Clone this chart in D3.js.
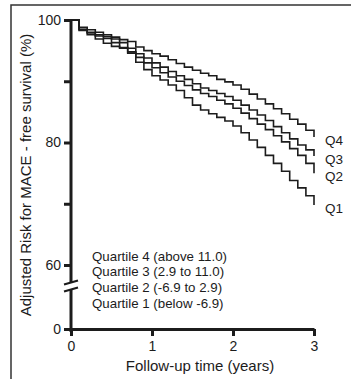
<!DOCTYPE html>
<html>
<head>
<meta charset="utf-8">
<script src="https://cdn.jsdelivr.net/npm/d3@7"></script>
<style>
  body { margin: 0; background: #fff; }
  svg { display: block; font-family: Arial, "Liberation Sans", sans-serif; }
</style>
</head>
<body>
<div id="chart"></div>
<script>
"use strict"

// follow-up time (years)
const years = [0, 0.1, 0.2, 0.3, 0.4, 0.5, 0.6, 0.7, 0.8, 0.9,
               1.0, 1.1, 1.2, 1.3, 1.4, 1.5, 1.6, 1.7, 1.8, 1.9,
               2.0, 2.1, 2.2, 2.3, 2.4, 2.5, 2.6, 2.7, 2.8, 2.9, 3.0];

// adjusted MACE-free survival (%)
const q4 = [100, 98.8, 98.4, 98.0, 97.6, 97.2, 96.8, 96.5, 95.6, 95.0,
            94.5, 94.1, 93.5, 92.9, 92.3, 91.8, 91.3, 90.9, 90.3, 89.9,
            89.4, 88.7, 87.9, 87.1, 86.3, 85.5, 84.7, 83.8, 83.0, 82.0, 80.9];
const q3 = [100, 98.5, 98.0, 97.6, 97.3, 96.9, 96.3, 95.4, 94.5, 93.8,
            93.0, 92.3, 91.6, 90.9, 90.3, 89.6, 88.9, 88.5, 88.0, 87.5,
            86.9, 86.1, 85.3, 84.5, 83.6, 82.6, 81.6, 80.6, 79.6, 78.8, 77.8];
const q2 = [100, 98.4, 97.9, 97.4, 97.0, 96.3, 95.5, 94.8, 93.9, 93.0,
            92.2, 91.4, 90.7, 90.0, 89.3, 88.6, 88.0, 87.5, 86.9, 86.3,
            85.6, 84.8, 83.9, 83.0, 82.1, 81.1, 80.1, 79.0, 77.9, 76.6, 75.0];
const q1 = [100, 98.3, 97.6, 96.9, 96.2, 95.7, 95.4, 94.6, 93.1, 91.9,
            90.9, 90.2, 89.4, 88.5, 87.3, 86.1, 85.3, 84.7, 84.1, 83.5,
            82.7, 81.6, 80.4, 79.2, 77.9, 76.6, 75.3, 73.8, 72.6, 71.3, 69.8];

const seriesNames = ["Q4", "Q3", "Q2", "Q1"];
const legendLines = ["Quartile 4 (above 11.0)", "Quartile 3 (2.9 to 11.0)",
                     "Quartile 2 (-6.9 to 2.9)", "Quartile 1 (below -6.9)"];

const xTicks = [0, 1, 2, 3];
const yTicks = [60, 70, 80, 90, 100];
const yTickLabels = [60, 80, 100];
const yLowTicks = [0];

const ink = "#1c1c1c";
const width = 351, height = 379;

let svg = d3.select("#chart")
            .append("svg")
            .attr("width", width)
            .attr("height", height);

// frame (only top and left visible in the crop)
svg.append("path")
   .attr("d", "M11,379V5H351")
   .attr("fill", "none")
   .attr("stroke", "#333")
   .attr("stroke-width", 1.5);

let x = d3.scaleLinear().domain([0, 3]).range([71, 314]);
let y = d3.scaleLinear().domain([60, 100]).range([265, 20]);
let yLow = d3.scaleLinear().domain([0, 60]).range([329, 265]);
let breakY = 286;

// curves
let data = [q4, q3, q2, q1].map(function(vals, i) {
  return { name: seriesNames[i], values: vals.map(function(v, j) { return { t: years[j], v: v }; }) };
});

let line = d3.line()
             .x(function(d) { return x(d.t); })
             .y(function(d) { return y(d.v); })
             .curve(d3.curveStepAfter);

svg.append("g")
   .selectAll("path")
   .data(data)
   .enter()
   .append("path")
   .attr("d", function(d) { return line(d.values); })
   .attr("fill", "none")
   .attr("stroke", ink)
   .attr("stroke-width", 1.6);

svg.append("g")
   .selectAll("text")
   .data(data)
   .enter()
   .append("text")
   .attr("x", x(3) + 11)
   .attr("y", function(d) { return y(d.values[d.values.length - 1].v) + 3; })
   .attr("dy", "0.35em")
   .style("font-size", "13.5px")
   .attr("fill", ink)
   .text(function(d) { return d.name; });

// y axis, upper part
let yAxis = svg.append("g")
   .attr("transform", "translate(" + x(0) + ",0)")
   .call(d3.axisLeft(y)
           .tickValues(yTicks)
           .tickSize(7)
           .tickSizeOuter(0)
           .tickPadding(3)
           .tickFormat(function(d) { return yTickLabels.indexOf(d) >= 0 ? d : ""; }));
yAxis.select(".domain").remove();

// y axis, lower part
let yAxisLow = svg.append("g")
   .attr("transform", "translate(" + x(0) + ",0)")
   .call(d3.axisLeft(yLow)
           .tickValues(yLowTicks)
           .tickSize(7)
           .tickSizeOuter(0)
           .tickPadding(3));
yAxisLow.select(".domain").remove();

svg.selectAll(".tick line")
   .attr("stroke", ink)
   .attr("stroke-width", 3);
svg.selectAll(".tick text")
   .attr("fill", ink)
   .style("font-size", "14px")
   .style("font-family", "Arial, 'Liberation Sans', sans-serif");

svg.append("line")
   .attr("x1", x(0)).attr("x2", x(0))
   .attr("y1", y(100) - 1).attr("y2", breakY - 3)
   .attr("stroke", ink).attr("stroke-width", 3);
svg.append("line")
   .attr("x1", x(0)).attr("x2", x(0))
   .attr("y1", breakY + 3).attr("y2", yLow(0) + 3)
   .attr("stroke", ink).attr("stroke-width", 3);

// break marks
[-3.5, 3.5].forEach(function(off) {
  svg.append("line")
     .attr("x1", x(0) - 7).attr("y1", breakY + off + 2)
     .attr("x2", x(0) + 7).attr("y2", breakY + off - 2)
     .attr("stroke", ink).attr("stroke-width", 2.2);
});

// x axis
let xAxis = svg.append("g")
   .attr("transform", "translate(0," + yLow(0) + ")")
   .call(d3.axisBottom(x)
           .tickValues(xTicks)
           .tickFormat(d3.format("d"))
           .tickSize(7)
           .tickSizeOuter(0)
           .tickPadding(5));
xAxis.select(".domain")
     .attr("stroke", ink)
     .attr("stroke-width", 3);
xAxis.selectAll(".tick line").attr("stroke", ink).attr("stroke-width", 3);
xAxis.selectAll(".tick text")
     .attr("fill", ink)
     .style("font-size", "14px")
     .style("font-family", "Arial, 'Liberation Sans', sans-serif");

// axis titles
svg.append("text")
   .attr("x", 200)
   .attr("y", 371)
   .attr("text-anchor", "middle")
   .style("font-size", "15px")
   .attr("fill", ink)
   .text("Follow-up time (years)");

svg.append("text")
   .attr("transform", "translate(31,175) rotate(-90)")
   .attr("text-anchor", "middle")
   .style("font-size", "15px")
   .attr("fill", ink)
   .text("Adjusted Risk for MACE - free survival (%)");

// legend
svg.append("g")
   .selectAll("text")
   .data(legendLines)
   .enter()
   .append("text")
   .attr("x", 92)
   .attr("y", function(d, i) { return 256 + i * 15.7; })
   .attr("dy", "0.35em")
   .style("font-size", "13.3px")
   .attr("fill", ink)
   .text(function(d) { return d; });
</script>
</body>
</html>
